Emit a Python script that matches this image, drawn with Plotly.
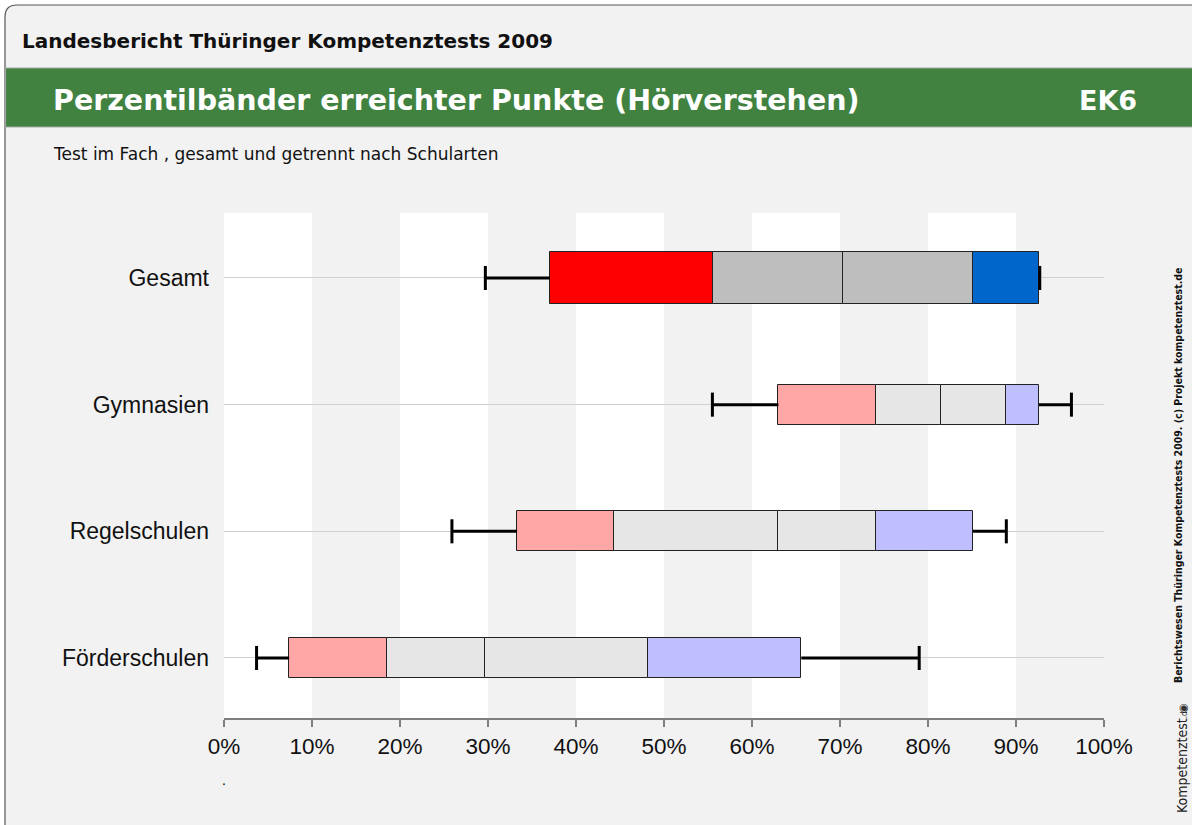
import plotly.graph_objects as go

# ---------------- data ----------------
categories = ["Gesamt", "Gymnasien", "Regelschulen", "Förderschulen"]
p05 = [29.7, 55.5, 25.9, 3.7]   # whisker left
p10 = [37.0, 63.0, 33.3, 7.4]   # box start
p25 = [55.6, 74.1, 44.3, 18.5]  # end of red band
p50 = [70.3, 81.5, 63.0, 29.7]  # median
p75 = [85.1, 88.9, 74.1, 48.2]  # end of grey band
p90 = [92.6, 92.6, 85.1, 65.6]  # end of blue band
p95 = [92.7, 96.3, 88.9, 79.0]  # whisker right
x_ticks = [0, 10, 20, 30, 40, 50, 60, 70, 80, 90, 100]
x_tick_labels = [f"{v}%" for v in x_ticks]

# ---------------- styles ----------------
W, H = 1192, 825
L, R, T, B = 224, 1104, 213, 718
colors_total = ["#ff0000", "#bebebe", "#bebebe", "#0066cc"]
colors_school = ["#ffa6a6", "#e6e6e6", "#e6e6e6", "#bfbfff"]
width_total, width_school = 0.41, 0.316
cap_half = 0.095
green = "#418241"


def px(x):
    return (x - L) / (R - L)


def py(y):
    return (B - y) / (B - T)


ypos = list(range(len(categories)))
fig = go.Figure()

# whiskers (drawn from the data)
wx, wy = [], []
for i, y in enumerate(ypos):
    wx += [p05[i], p10[i], None, p90[i], p95[i], None,
           p05[i], p05[i], None, p95[i], p95[i], None]
    wy += [y, y, None, y, y, None,
           y - cap_half, y + cap_half, None, y - cap_half, y + cap_half, None]
fig.add_trace(go.Scatter(x=wx, y=wy, mode="lines",
                         line=dict(color="black", width=3),
                         hoverinfo="skip", showlegend=False))

# percentile bands
bounds = [p10, p25, p50, p75, p90]
for k in range(4):
    starts = bounds[k]
    ends = bounds[k + 1]
    fig.add_trace(go.Bar(
        orientation="h",
        y=ypos,
        base=starts,
        x=[e - s for s, e in zip(starts, ends)],
        width=[width_total if i == 0 else width_school for i in ypos],
        marker=dict(color=[colors_total[k] if i == 0 else colors_school[k] for i in ypos],
                    line=dict(color="#222222", width=1)),
        showlegend=False, hoverinfo="skip"))

shapes = []
# outer rounded frame
r = 12
frame_path = (f"M {px(5)} {py(900)} L {px(5)} {py(5 + r)} "
              f"Q {px(5)} {py(5)} {px(5 + r)} {py(5)} L {px(1300)} {py(5)} "
              f"L {px(1300)} {py(900)} Z")
shapes.append(dict(type="path", xref="paper", yref="paper", path=frame_path,
                   fillcolor="#f2f2f2", line=dict(color="#555555", width=1.2),
                   layer="below"))
# green title band
shapes.append(dict(type="rect", xref="paper", yref="paper",
                   x0=px(5.6), x1=px(1300), y0=py(127), y1=py(68),
                   fillcolor=green, line=dict(color="#a8a8a8", width=1),
                   layer="below"))
# white stripes
for s in range(0, 100, 20):
    shapes.append(dict(type="rect", xref="x", yref="paper",
                       x0=s, x1=s + 10, y0=0, y1=1,
                       fillcolor="white", line=dict(width=0), layer="below"))

annotations = [
    dict(text="<b>Landesbericht Thüringer Kompetenztests 2009</b>",
         x=px(20), y=py(41), xanchor="left", yanchor="middle",
         font=dict(family="DejaVu Sans", size=20, color="#111111")),
    dict(text="<b>Perzentilbänder erreichter Punkte (Hörverstehen)</b>",
         x=px(51), y=py(100), xanchor="left", yanchor="middle",
         font=dict(family="DejaVu Sans", size=28.5, color="white")),
    dict(text="<b>EK6</b>",
         x=px(1139), y=py(100), xanchor="right", yanchor="middle",
         font=dict(family="DejaVu Sans", size=27, color="white")),
    dict(text="Test im Fach , gesamt und getrennt nach Schularten",
         x=px(51), y=py(154), xanchor="left", yanchor="middle",
         font=dict(family="DejaVu Sans", size=17, color="#111111")),
    dict(text="<b>Berichtswesen Thüringer Kompetenztests 2009. (c) Projekt kompetenztest.de</b>",
         x=px(1178), y=py(475), xanchor="center", yanchor="middle", textangle=-90,
         font=dict(family="DejaVu Sans Condensed, DejaVu Sans", size=10.5, color="#111111")),
    dict(text="Kompetenztest<span style='font-size:8px'>.de</span>",
         x=px(1182), y=py(760), xanchor="center", yanchor="middle", textangle=-90,
         font=dict(family="DejaVu Sans Condensed, DejaVu Sans", size=14, color="#222222")),
    dict(text="◉", x=px(1184), y=py(706), xanchor="center", yanchor="middle",
         font=dict(size=11, color="#333333")),
    dict(text=".", x=px(224), y=py(780), xanchor="center", yanchor="middle",
         font=dict(family="Liberation Sans", size=14, color="black")),
]

for a in annotations:
    a.update(xref="paper", yref="paper", showarrow=False)

fig.update_layout(
    width=W, height=H,
    margin=dict(l=L, r=W - R, t=T, b=H - B, pad=0),
    paper_bgcolor="white",
    plot_bgcolor="#f2f2f2",
    barmode="overlay",
    bargap=0,
    shapes=shapes,
    annotations=annotations,
    xaxis=dict(range=[0, 100], tickvals=x_ticks, ticktext=x_tick_labels,
               showgrid=False, zeroline=False, showline=True,
               linecolor="#7f7f7f", linewidth=1.5,
               ticks="outside", ticklen=7, tickwidth=1.5, tickcolor="#7f7f7f",
               tickfont=dict(family="Liberation Sans", size=22.5, color="#111111"),
               fixedrange=True),
    yaxis=dict(range=[3.474, -0.513], tickvals=ypos, ticktext=categories,
               showgrid=True, gridcolor="#d0d0d0", gridwidth=1,
               zeroline=False, showline=False, ticks="",
               ticklabelstandoff=14,
               tickfont=dict(family="Liberation Sans", size=23, color="#111111"),
               fixedrange=True),
)

fig.write_html(
    "out.html",
    config={"displayModeBar": False},
    post_script="document.body.style.margin='0';document.body.style.padding='0';"
                "document.body.style.overflow='hidden';",
)
